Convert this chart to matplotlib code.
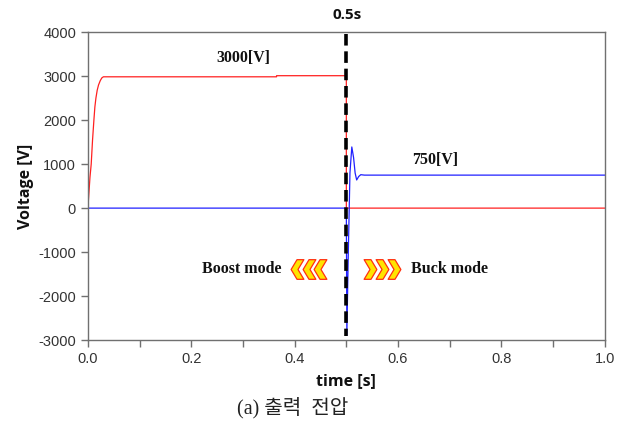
#!/usr/bin/env python3
"""Output voltage of the converter: boost mode before 0.5 s, buck mode after."""

import matplotlib

matplotlib.use("Agg")
import matplotlib.pyplot as plt
from matplotlib.path import Path as MPath
from matplotlib.ticker import MultipleLocator

plt.rcParams["axes.unicode_minus"] = False

# red trace: boost output (stair-like rise, small step near 0.365 s, off at 0.5 s)
boost_t = [0.0, 0.002, 0.004, 0.0064, 0.009, 0.0116, 0.0135, 0.0155, 0.018, 0.0206,
           0.024, 0.027, 0.030, 0.365, 0.365, 0.5, 0.5, 1.0]
boost_v = [0, 350, 700, 1000, 1550, 2000, 2300, 2500, 2680, 2800,
           2900, 2960, 2985, 2985, 3010, 3010, 0, 0]

# blue trace: buck output (off until 0.5 s, then transient and settle)
buck_t = [0.0, 0.5, 0.501, 0.5035, 0.507, 0.5106, 0.514, 0.517, 0.520, 0.524, 0.528, 0.535, 1.0]
buck_v = [0, 0, -2890, -1200, 800, 1390, 1150, 800, 640, 720, 760, 750, 750]

switch_t = 0.5
boost_chevrons = [0.405, 0.427, 0.449]
buck_chevrons = [0.546, 0.569, 0.592]
mode_v = -1386

fig = plt.figure(figsize=(6.19, 4.23), dpi=100)
ax = fig.add_axes([0.142, 0.196, 0.835, 0.728])

ax.plot(boost_t, boost_v, color="#ff2020", lw=0.9)
ax.plot(buck_t, buck_v, color="#2020ff", lw=0.9)
ax.plot([switch_t, switch_t], [3950, -2900], color="black", lw=2.6,
        linestyle=(0, (3.2, 1.6)), zorder=5)

ax.set_xlim(0, 1.0)
ax.set_ylim(-3000, 4000)
ax.xaxis.set_major_locator(MultipleLocator(0.2))
ax.xaxis.set_minor_locator(MultipleLocator(0.1))
ax.yaxis.set_major_locator(MultipleLocator(1000))
ax.set_xticklabels([f"{v:.1f}" for v in ax.get_xticks()])

grey = "#707070"
for s in ax.spines.values():
    s.set_color(grey)
    s.set_linewidth(1.0)
ax.tick_params(which="both", direction="out", color=grey, labelcolor="#333333",
               labelsize=10.5, length=5, width=1.0)
for lab in ax.get_xticklabels() + ax.get_yticklabels():
    lab.set_family("Liberation Sans")

lab_font = dict(family="Open Sans", weight="bold", size=11.5, color="#111111")
ax.set_xlabel("time [s]", labelpad=5, **lab_font)
ax.set_ylabel("Voltage [V]", labelpad=3, **lab_font)

ann = dict(family="Liberation Serif", weight="bold", size=11.5, color="#111111",
           ha="center", va="center")
ax.text(0.30, 3409, "3000[V]", **ann)
ax.text(0.671, 1090, "750[V]", **ann)
ax.text(0.298, mode_v, "Boost mode", **ann)
ax.text(0.699, mode_v, "Buck mode", **ann)

# chevron markers
codes = [MPath.MOVETO] + [MPath.LINETO] * 5 + [MPath.CLOSEPOLY]
left_chev = MPath([(-0.65, 0), (-0.05, 1), (0.65, 1), (0.05, 0), (0.65, -1), (-0.05, -1), (-0.65, 0)], codes)
right_chev = MPath([(0.65, 0), (0.05, 1), (-0.65, 1), (-0.05, 0), (-0.65, -1), (0.05, -1), (0.65, 0)], codes)
chev_style = dict(s=200, facecolor="#ffe400", edgecolor="#ff3010", linewidths=0.9, zorder=6)
ax.scatter(boost_chevrons, [mode_v] * 3, marker=left_chev, **chev_style)
ax.scatter(buck_chevrons, [mode_v] * 3, marker=right_chev, **chev_style)

fig.text(347 / 619, 1 - 15 / 423, "0.5s", family="Open Sans", weight="bold",
         size=11, ha="center", va="center", color="#111111")
fig.text(293 / 619, 1 - 408 / 423, "(a) 출력  전압", family=["Liberation Serif", "Noto Sans CJK KR"],
         size=14.5, ha="center", va="center", color="#222222")

fig.savefig("out.png", dpi=100)
plt.close(fig)
